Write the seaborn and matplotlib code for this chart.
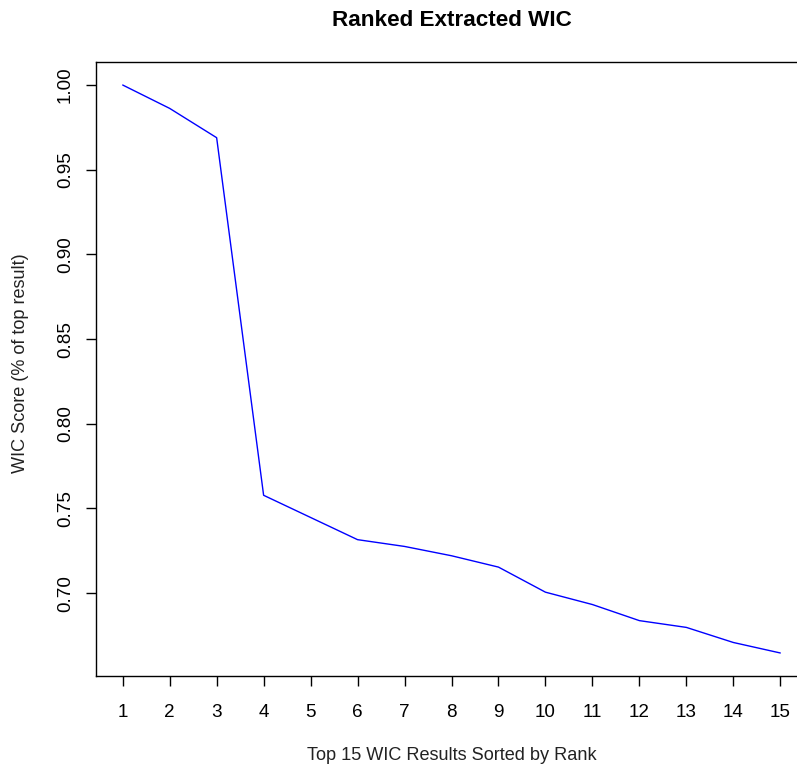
import matplotlib
matplotlib.use("Agg")
import matplotlib.pyplot as plt
import seaborn as sns
import pandas as pd

ranks = list(range(1, 16))
scores = [1.000, 0.9862, 0.9689, 0.7578, 0.7447, 0.7316, 0.7276, 0.7221, 0.7154,
          0.7006, 0.6933, 0.6838, 0.6798, 0.6709, 0.6647]
y_ticks = [0.70, 0.75, 0.80, 0.85, 0.90, 0.95, 1.00]
title = "Ranked Extracted WIC"
xlabel = "Top 15 WIC Results Sorted by Rank"
ylabel = "WIC Score (% of top result)"

df = pd.DataFrame({"rank": ranks, "score": scores})

sns.set_style("ticks")
plt.rcParams["font.family"] = ["Liberation Sans", "DejaVu Sans"]

W, H = 797, 771
fig = plt.figure(figsize=(W / 100, H / 100), dpi=100)
left_px, right_px, top_px, bottom_px = 96.4, 806.6, 62.3, 675.7
ax = fig.add_axes([left_px / W, 1 - bottom_px / H,
                   (right_px - left_px) / W, (bottom_px - top_px) / H])

sns.lineplot(data=df, x="rank", y="score", ax=ax, color="#0000FF", lw=1.0)

xr = max(ranks) - min(ranks)
ax.set_xlim(min(ranks) - 0.04 * xr, max(ranks) + 0.04 * xr)
yr = max(scores) - min(scores)
ax.set_ylim(min(scores) - 0.04 * yr, max(scores) + 0.04 * yr)

ax.set_xticks(ranks)
ax.set_xticklabels([str(r) for r in ranks])
ax.set_yticks(y_ticks)
ax.set_yticklabels([f"{v:.2f}" for v in y_ticks], rotation=90, va="center")

ax.tick_params(axis="both", direction="out", length=7.2, width=1.0,
               color="black", labelsize=13.6, labelcolor="black")
ax.tick_params(axis="x", pad=13.5)
ax.tick_params(axis="y", pad=9.0)

for s in ax.spines.values():
    s.set_visible(True)
    s.set_color("black")
    s.set_linewidth(1.0)

ax.set_xlabel(xlabel, fontsize=13.1, color="#222222")
ax.set_ylabel(ylabel, fontsize=13.1, color="#222222")
ax.xaxis.set_label_coords((451.5 - left_px) / (right_px - left_px),
                          -(756 - bottom_px) / (bottom_px - top_px))
ax.yaxis.set_label_coords(-(left_px - 21) / (right_px - left_px),
                          (bottom_px - 363) / (bottom_px - top_px))
ax.xaxis.label.set_va("center")
ax.yaxis.label.set_va("center")

ax.set_title(title, fontsize=16.2, fontweight="bold", pad=26, color="black")

fig.savefig("out.png", dpi=100)
